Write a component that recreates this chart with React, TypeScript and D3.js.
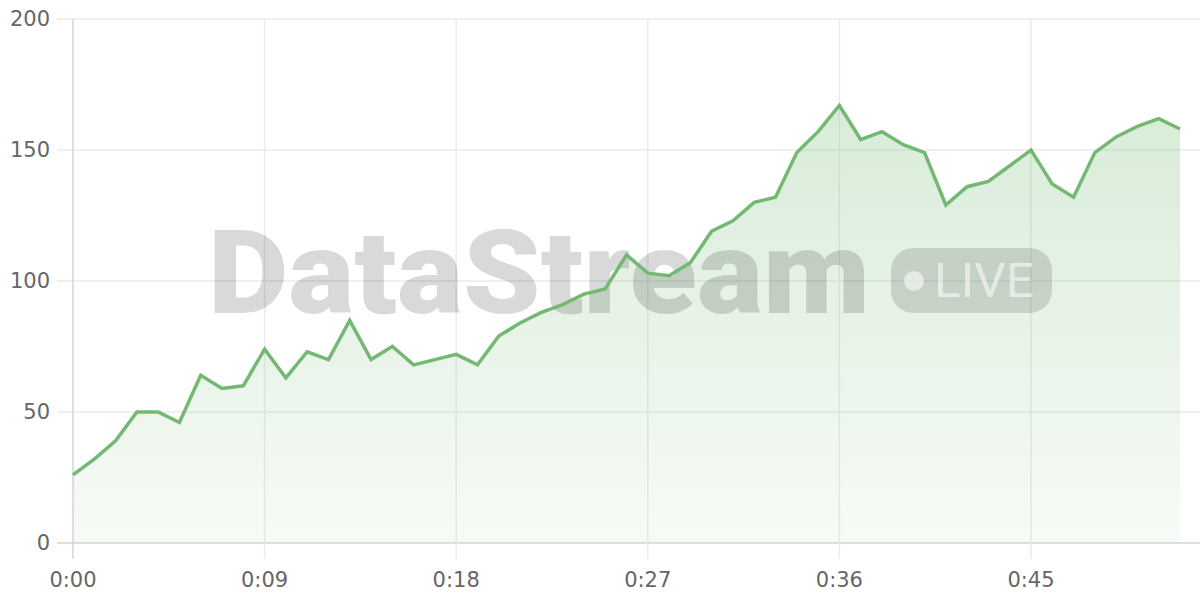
import React, { useEffect, useRef } from "react";
import * as d3 from "d3";

const seconds: number[] = Array.from({ length: 53 }, (_, i) => i);
const values: number[] = [
  26, 32, 39, 50, 50, 46, 64, 59, 60, 74,
  63, 73, 70, 85, 70, 75, 68, 70, 72, 68,
  79, 84, 88, 91, 95, 97, 110, 103, 102, 107,
  119, 123, 130, 132, 149, 157, 167, 154, 157, 152,
  149, 129, 136, 138, 144, 150, 137, 132, 149, 155,
  159, 162, 158,
];
const xTicks: number[] = [0, 9, 18, 27, 36, 45];
const yTicks: number[] = [0, 50, 100, 150, 200];
const watermark = "DataStream";
const badgeLabel = "LIVE";

const W = 1200;
const H = 600;
const LEFT = 73;
const RIGHT = 1180;
const TOP = 19;
const BOTTOM = 543;

export default function App() {
  const ref = useRef<SVGSVGElement | null>(null);

  useEffect(() => {
    const svg = d3.select(ref.current);
    svg.selectAll("*").remove();

    const x = d3.scaleLinear().domain([0, 52]).range([LEFT, RIGHT]);
    const y = d3.scaleLinear().domain([0, 200]).range([BOTTOM, TOP]);
    const data = seconds.map((s, i) => ({ s, v: values[i] }));
    const fmt = (s: number) => `${Math.floor(s / 60)}:${String(s % 60).padStart(2, "0")}`;

    const defs = svg.append("defs");
    const grad = defs
      .append("linearGradient")
      .attr("id", "areaGrad")
      .attr("gradientUnits", "userSpaceOnUse")
      .attr("x1", 0)
      .attr("x2", 0)
      .attr("y1", TOP)
      .attr("y2", BOTTOM);
    grad.append("stop").attr("offset", "0%").attr("stop-color", "rgb(115,185,115)").attr("stop-opacity", 0.32);
    grad.append("stop").attr("offset", "100%").attr("stop-color", "rgb(115,185,115)").attr("stop-opacity", 0.06);

    // horizontal grid
    svg
      .append("g")
      .selectAll("line")
      .data(yTicks)
      .join("line")
      .attr("x1", LEFT - 16)
      .attr("x2", W)
      .attr("y1", (d) => y(d))
      .attr("y2", (d) => y(d))
      .attr("stroke", (d) => (d === 0 ? "#d4d4d4" : "#ebebeb"))
      .attr("stroke-width", 1.5);

    // vertical grid
    svg
      .append("g")
      .selectAll("line")
      .data(xTicks)
      .join("line")
      .attr("x1", (d) => x(d))
      .attr("x2", (d) => x(d))
      .attr("y1", TOP)
      .attr("y2", BOTTOM + 16)
      .attr("stroke", (d) => (d === 0 ? "#d4d4d4" : "#ebebeb"))
      .attr("stroke-width", 1.5);

    // area
    const area = d3
      .area<{ s: number; v: number }>()
      .x((d) => x(d.s))
      .y0(y(0))
      .y1((d) => y(d.v));
    svg.append("path").datum(data).attr("d", area).attr("fill", "url(#areaGrad)");

    // watermark
    const wm = svg.append("g");
    wm.append("text")
      .attr("x", 208)
      .attr("y", 313)
      .attr("font-family", "Roboto, 'Liberation Sans', sans-serif")
      .attr("font-weight", 900)
      .attr("font-size", 117)
      .attr("textLength", 662)
      .attr("lengthAdjust", "spacingAndGlyphs")
      .attr("fill", "rgba(0,0,0,0.15)")
      .text(watermark);
    wm.append("rect")
      .attr("x", 891)
      .attr("y", 248)
      .attr("width", 161)
      .attr("height", 65)
      .attr("rx", 22)
      .attr("fill", "rgba(0,0,0,0.13)");
    wm.append("circle").attr("cx", 914).attr("cy", 281).attr("r", 10).attr("fill", "rgba(255,255,255,0.55)");
    wm.append("text")
      .attr("x", 934)
      .attr("y", 297)
      .attr("font-family", "Roboto, 'Liberation Sans', sans-serif")
      .attr("font-weight", 400)
      .attr("font-size", 48)
      .attr("textLength", 100)
      .attr("lengthAdjust", "spacingAndGlyphs")
      .attr("fill", "rgba(255,255,255,0.55)")
      .text(badgeLabel);

    // line
    const line = d3
      .line<{ s: number; v: number }>()
      .x((d) => x(d.s))
      .y((d) => y(d.v));
    svg
      .append("path")
      .datum(data)
      .attr("d", line)
      .attr("fill", "none")
      .attr("stroke", "rgb(115,185,115)")
      .attr("stroke-width", 3.5)
      .attr("stroke-linejoin", "miter");

    // labels
    svg
      .append("g")
      .selectAll("text")
      .data(yTicks)
      .join("text")
      .attr("x", 50)
      .attr("y", (d) => y(d))
      .attr("dy", "0.35em")
      .attr("text-anchor", "end")
      .attr("font-family", "'DejaVu Sans', sans-serif")
      .attr("font-size", 21)
      .attr("fill", "#666")
      .text((d) => String(d));

    svg
      .append("g")
      .selectAll("text")
      .data(xTicks)
      .join("text")
      .attr("x", (d) => x(d))
      .attr("y", 580)
      .attr("dy", "0.35em")
      .attr("text-anchor", "middle")
      .attr("font-family", "'DejaVu Sans', sans-serif")
      .attr("font-size", 21)
      .attr("fill", "#666")
      .text((d) => fmt(d));
  }, []);

  return (
    <svg
      ref={ref}
      width={W}
      height={H}
      style={{ position: "absolute", left: 0, top: 0, display: "block", background: "#fff" }}
    />
  );
}
